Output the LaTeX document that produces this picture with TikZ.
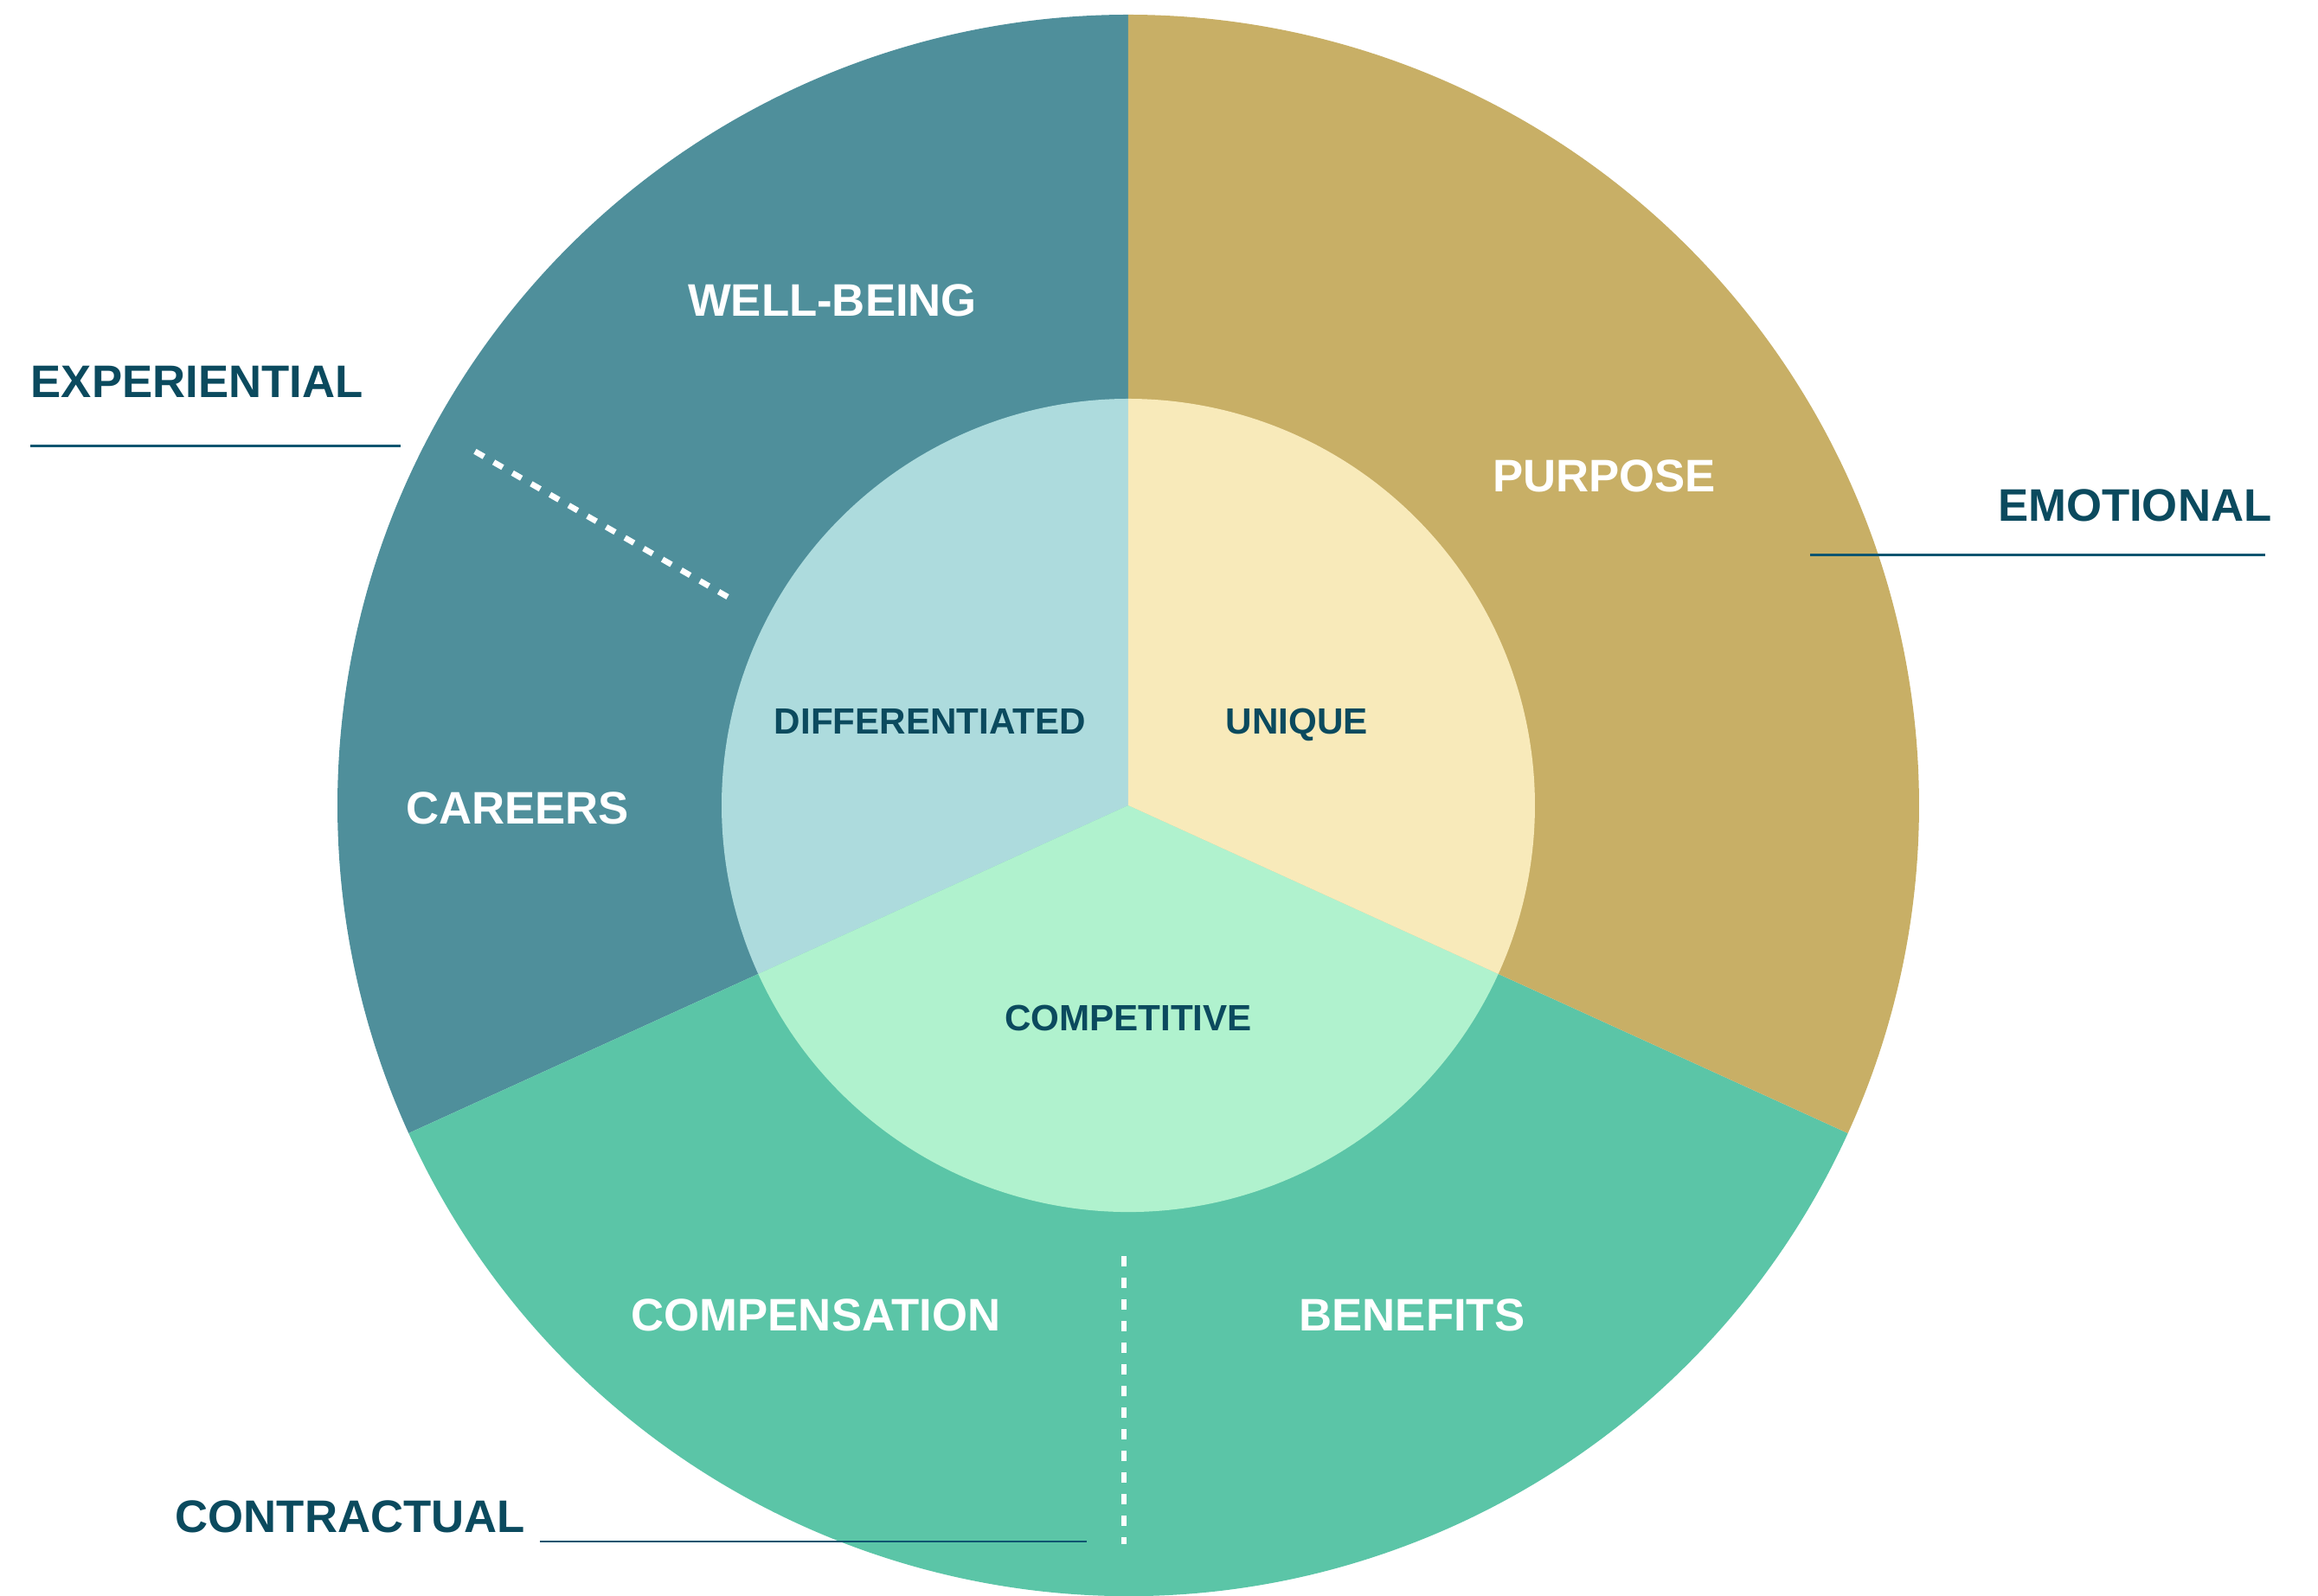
\documentclass[tikz,border=0pt]{standalone}
\usepackage{fontspec}
\setmainfont{Liberation Sans}
\definecolor{wheelteal}{RGB}{79,143,155}
\definecolor{wheelgold}{RGB}{200,175,102}
\definecolor{wheelgreen}{RGB}{91,197,167}
\definecolor{innerblue}{RGB}{173,219,221}
\definecolor{innercream}{RGB}{248,234,186}
\definecolor{innermint}{RGB}{176,242,206}
\definecolor{labeldark}{RGB}{11,74,94}
\definecolor{leaderblue}{RGB}{11,85,112}
\begin{document}
\begin{tikzpicture}[
    outer label/.style={text=white, text depth=0pt, font=\fontsize{15pt}{18pt}\selectfont\bfseries},
    inner label/.style={text=labeldark, text depth=0pt, font=\fontsize{12pt}{14pt}\selectfont\bfseries},
    side label/.style={text=labeldark, inner sep=0pt, text depth=0pt, font=\fontsize{15pt}{18pt}\selectfont\bfseries},
    leader/.style={draw=leaderblue, line width=0.85pt},
    splitter/.style={draw=white, line width=1.9pt, dash pattern=on 0.12cm off 0.13cm}
  ]
    \useasboundingbox (-13.04,-9.14) rectangle (13.75,9.31);
    % outer ring
    \fill[wheelteal] (0,0) -- (90:9.14) arc (90:204.5:9.14) -- cycle;
    \fill[wheelgreen] (0,0) -- (204.5:9.14) arc (204.5:335.5:9.14) -- cycle;
    \fill[wheelgold] (0,0) -- (335.5:9.14) arc (335.5:450:9.14) -- cycle;
    % inner disc
    \fill[innerblue] (0,0) -- (90:4.70) arc (90:204.5:4.70) -- cycle;
    \fill[innermint] (0,0) -- (204.5:4.70) arc (204.5:335.5:4.70) -- cycle;
    \fill[innercream] (0,0) -- (335.5:4.70) arc (335.5:450:4.70) -- cycle;
    % dotted splits
    \coordinate (split1a) at (-4.63,2.41);
    \coordinate (split1b) at (-7.60,4.12);
    \coordinate (split2a) at (-0.05,-5.21);
    \coordinate (split2b) at (-0.05,-8.54);
    \draw[splitter] (split1a) -- (split1b);
    \draw[splitter] (split2a) -- (split2b);
    % ring labels
    \node[outer label] (wellbeing) at (-3.42,5.84) {WELL-BEING};
    \node[outer label] (careers) at (-7.06,-0.03) {CAREERS};
    \node[outer label] (purpose) at (5.50,3.81) {PURPOSE};
    \node[outer label] (compensation) at (-3.61,-5.89) {COMPENSATION};
    \node[outer label] (benefits) at (3.28,-5.89) {BENEFITS};
    \node[inner label] (differentiated) at (-2.29,0.97) {DIFFERENTIATED};
    \node[inner label] (unique) at (1.95,0.97) {UNIQUE};
    \node[inner label] (competitive) at (0,-2.46) {COMPETITIVE};
    % side labels
    \node[side label, anchor=west] (experiential) at (-12.69,4.90) {EXPERIENTIAL};
    \node[side label, anchor=east] (emotional) at (13.22,3.47) {EMOTIONAL};
    \node[side label, anchor=west] (contractual) at (-11.02,-8.22) {CONTRACTUAL};
    \coordinate (experiential-a) at (-12.69,4.15);
    \coordinate (experiential-b) at (-8.41,4.15);
    \coordinate (emotional-a) at (7.88,2.89);
    \coordinate (emotional-b) at (13.14,2.89);
    \coordinate (contractual-a) at (-6.80,-8.51);
    \coordinate (contractual-b) at (-0.48,-8.51);
    \draw[leader] (experiential-a) -- (experiential-b);
    \draw[leader] (emotional-a) -- (emotional-b);
    \draw[leader] (contractual-a) -- (contractual-b);
\end{tikzpicture}
\end{document}
